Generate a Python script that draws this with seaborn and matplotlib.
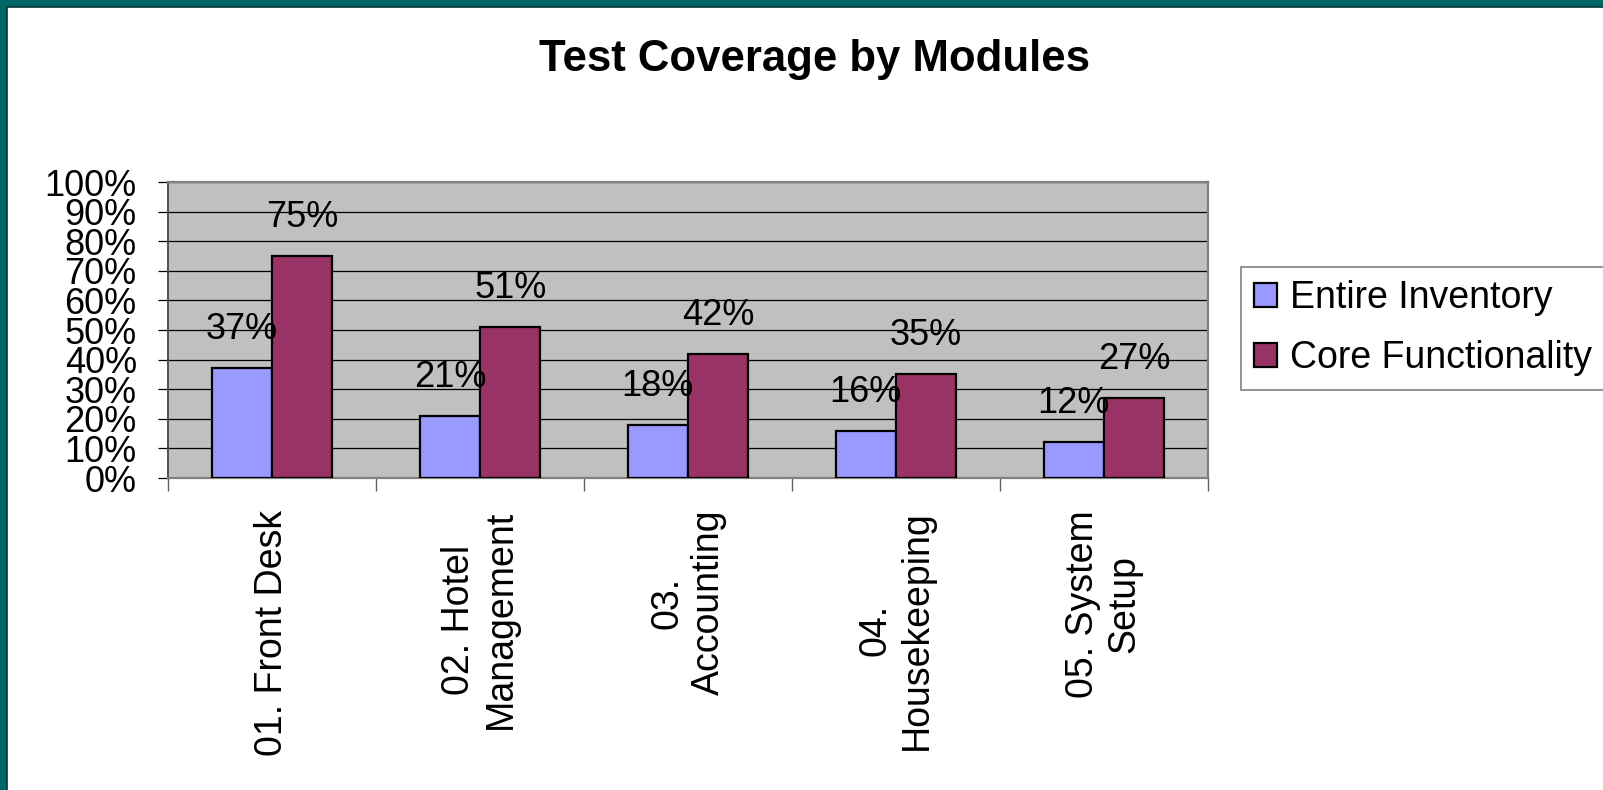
import matplotlib
matplotlib.use("Agg")
import matplotlib.pyplot as plt
import matplotlib.patches as mpatches
from matplotlib.ticker import FixedLocator
import pandas as pd
import seaborn as sns

# ---- data -------------------------------------------------------------
modules = [
    "01. Front Desk",
    "02. Hotel\nManagement",
    "03.\nAccounting",
    "04.\nHousekeeping",
    "05. System\nSetup",
]
series_names = ["Entire Inventory", "Core Functionality"]
entire_inventory = [37, 21, 18, 16, 12]
core_functionality = [75, 51, 42, 35, 27]
y_ticks = list(range(0, 101, 10))

colors = ["#9999FF", "#993366"]

df = pd.DataFrame({
    "Module": modules * 2,
    "Series": [series_names[0]] * len(modules) + [series_names[1]] * len(modules),
    "Coverage": entire_inventory + core_functionality,
})

plt.rcParams["font.family"] = ["Liberation Sans", "DejaVu Sans"]

W, H = 1603, 790
fig = plt.figure(figsize=(W / 100, H / 100), dpi=100, facecolor="#006666")

# white slide panel inside the teal frame (kept behind the axes)
fig.patches.append(mpatches.Rectangle(
    (7 / W, -0.01), 1.0, 1 - 7 / H + 0.01, transform=fig.transFigure,
    facecolor="white", edgecolor="#003a3a", linewidth=1.2, zorder=-10))

ax = fig.add_axes([168 / W, 1 - 478 / H, 1040 / W, 296 / H])
ax.set_facecolor("#C0C0C0")

sns.barplot(data=df, x="Module", y="Coverage", hue="Series",
            order=modules, hue_order=series_names, palette=colors,
            width=0.58, edgecolor="black", linewidth=1.6,
            saturation=1, legend=False, ax=ax, zorder=3)

# value labels above each bar
for container in ax.containers:
    for bar in container:
        val = bar.get_height()
        ax.annotate(f"{val:.0f}%", (bar.get_x() + bar.get_width() / 2, val),
                    xytext=(0, 29), textcoords="offset pixels",
                    ha="center", va="baseline", fontsize=26, zorder=5)

ax.set_xlim(-0.5, len(modules) - 0.5)
ax.set_ylim(0, 100)
ax.set_yticks(y_ticks)
ax.set_yticklabels([f"{t}%" for t in y_ticks])
ax.yaxis.grid(True, color="black", linewidth=0.9)
ax.set_axisbelow(True)
ax.set_xlabel("")
ax.set_ylabel("")

ax.tick_params(axis="y", length=7.5, width=0.9, color="black",
               labelsize=26, pad=15)
ax.tick_params(axis="x", which="major", length=0, labelsize=27, pad=23)
ax.xaxis.set_minor_locator(FixedLocator([i - 0.5 for i in range(len(modules) + 1)]))
ax.tick_params(axis="x", which="minor", length=9, width=1.0, color="#606060")

for lbl in ax.get_xticklabels():
    lbl.set_rotation(90)
    lbl.set_ha("center")
    lbl.set_va("top")
    lbl.set_multialignment("center")

for side in ["top", "right", "bottom"]:
    ax.spines[side].set_color("#808080")
    ax.spines[side].set_linewidth(1.6)
ax.spines["left"].set_color("#505050")
ax.spines["left"].set_linewidth(1.4)

fig.text(815 / W, 1 - 60 / H, "Test Coverage by Modules", ha="center",
         va="center", fontsize=31.5, fontweight="bold")

handles = [mpatches.Patch(facecolor=c, edgecolor="black", linewidth=1.6)
           for c in colors]
leg = fig.legend(handles, series_names, loc="upper left",
                 bbox_to_anchor=(1241 / W, 1 - 267 / H),
                 bbox_transform=fig.transFigure, fontsize=27,
                 frameon=True, fancybox=False, framealpha=1,
                 edgecolor="#808080", facecolor="white",
                 borderpad=0.35, labelspacing=0.65, handlelength=0.62,
                 handleheight=0.62, handletextpad=0.35, borderaxespad=0)
leg.get_frame().set_linewidth(1.2)

fig.savefig("out.png", dpi=100, facecolor=fig.get_facecolor())
